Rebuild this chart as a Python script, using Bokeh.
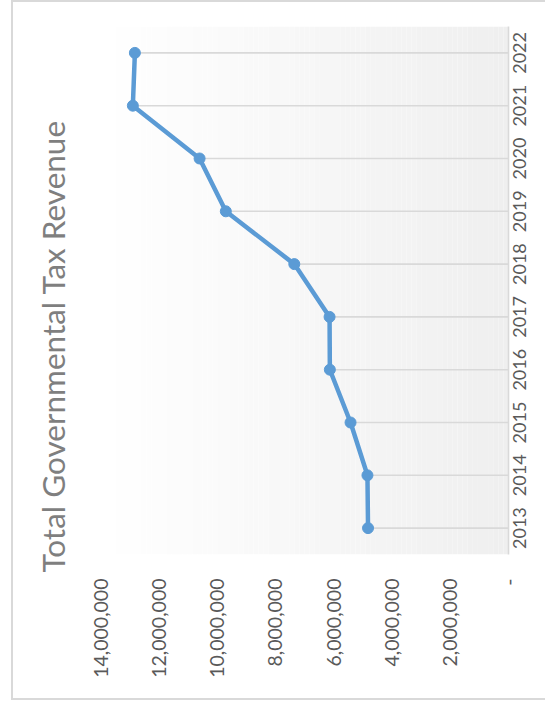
import math
import numpy as np
from bokeh.plotting import figure
from bokeh.models import Range1d, FixedTicker, Title
from bokeh.embed import file_html
from bokeh.resources import INLINE

# ---- data ----
years = [2013, 2014, 2015, 2016, 2017, 2018, 2019, 2020, 2021, 2022]
revenue = [4820000, 4840000, 5420000, 6130000, 6140000, 7350000, 9700000, 10600000, 12890000, 12820000]
value_ticks = [0, 2000000, 4000000, 6000000, 8000000, 10000000, 12000000, 14000000]
value_tick_labels = ["-", "2,000,000", "4,000,000", "6,000,000", "8,000,000",
                     "10,000,000", "12,000,000", "14,000,000"]
year_labels = [str(y) for y in years]
title_text = "Total Governmental Tax Revenue"

FONT = "Lato"
LINE_BLUE = "#5b9bd5"
GRID_GRAY = "#d9d9d9"
LABEL_GRAY = "#595959"

W, H = 545, 700
FRAME_L, FRAME_T, FRAME_W, FRAME_H = 100, 26, 408, 528
YEAR_FONT_PX = 18

vmax = max(value_ticks)
vmin = min(value_ticks)
ymin = years[0] - 0.5
ymax = years[-1] + 0.5

border_css = ("linear-gradient(#d9d9d9,#d9d9d9) 11px 0px / 2px %dpx no-repeat, "
              "linear-gradient(#d9d9d9,#d9d9d9) 11px 0px / 100%% 2px no-repeat, "
              "linear-gradient(#d9d9d9,#d9d9d9) 11px %dpx / 100%% 2px no-repeat, white") % (H, H - 2)

p = figure(width=W, height=H, output_backend="svg", toolbar_location=None,
           x_range=Range1d(vmax, vmin), y_range=Range1d(ymin, ymax),
           y_axis_location="right",
           min_border_left=FRAME_L, min_border_right=W - FRAME_L - FRAME_W,
           min_border_top=FRAME_T, min_border_bottom=H - FRAME_T - FRAME_H,
           styles={"background": border_css})
p.outline_line_color = None
p.background_fill_color = "white"
p.border_fill_color = None
p.xgrid.visible = False
p.ygrid.visible = False

# plot-area gradient (white -> light gray towards the category axis)
n = 80
edges = np.linspace(vmax, vmin, n + 1)
shades = np.linspace(255, 239, n).round().astype(int)
cols = ["#%02x%02x%02x" % (s, s, s) for s in shades]
p.quad(left=edges[:-1], right=edges[1:], bottom=ymin, top=ymax, fill_color=cols,
       line_color=None)

# drop lines
p.segment(x0=revenue, y0=years, x1=vmin, y1=years, line_color=GRID_GRAY, line_width=1.6)

# series
p.line(revenue, years, line_color=LINE_BLUE, line_width=4.5, line_join="round")
p.scatter(revenue, years, size=11, fill_color=LINE_BLUE, line_color=LINE_BLUE)

# value axis (bottom)
xa = p.xaxis[0]
xa.ticker = FixedTicker(ticks=value_ticks)
xa.major_label_overrides = {t: l for t, l in zip(value_ticks, value_tick_labels)}
xa.major_label_orientation = math.pi / 2
xa.axis_line_color = None
xa.major_tick_line_color = None
xa.minor_tick_line_color = None
xa.major_tick_out = 0
xa.major_tick_in = 0
xa.major_label_standoff = 24
xa.major_label_text_font = FONT
xa.major_label_text_font_size = "19.5px"
xa.major_label_text_color = LABEL_GRAY

# category axis (right); rotated labels start at their anchor, so the anchor is
# moved back by half a label length to centre each year on its category
px_per_year = FRAME_H / (ymax - ymin)
half_label = 4 * 0.58 * YEAR_FONT_PX / 2 / px_per_year
year_anchor = [y - half_label for y in years]
ya = p.yaxis[0]
ya.ticker = FixedTicker(ticks=year_anchor)
ya.major_label_overrides = {a: l for a, l in zip(year_anchor, year_labels)}
ya.major_label_orientation = math.pi / 2
ya.axis_line_color = GRID_GRAY
ya.axis_line_width = 1.6
ya.major_tick_line_color = None
ya.minor_tick_line_color = None
ya.major_label_standoff = 5
ya.major_label_text_font = FONT
ya.major_label_text_font_size = "%dpx" % YEAR_FONT_PX
ya.major_label_text_color = LABEL_GRAY

# title on the left
p.add_layout(Title(text=title_text, text_font=FONT, text_font_size="31.5px",
                   text_font_style="normal", text_color="#7f7f7f",
                   align="left", offset=-18, standoff=57), "left")

open("out.html", "w").write(file_html(p, INLINE))
